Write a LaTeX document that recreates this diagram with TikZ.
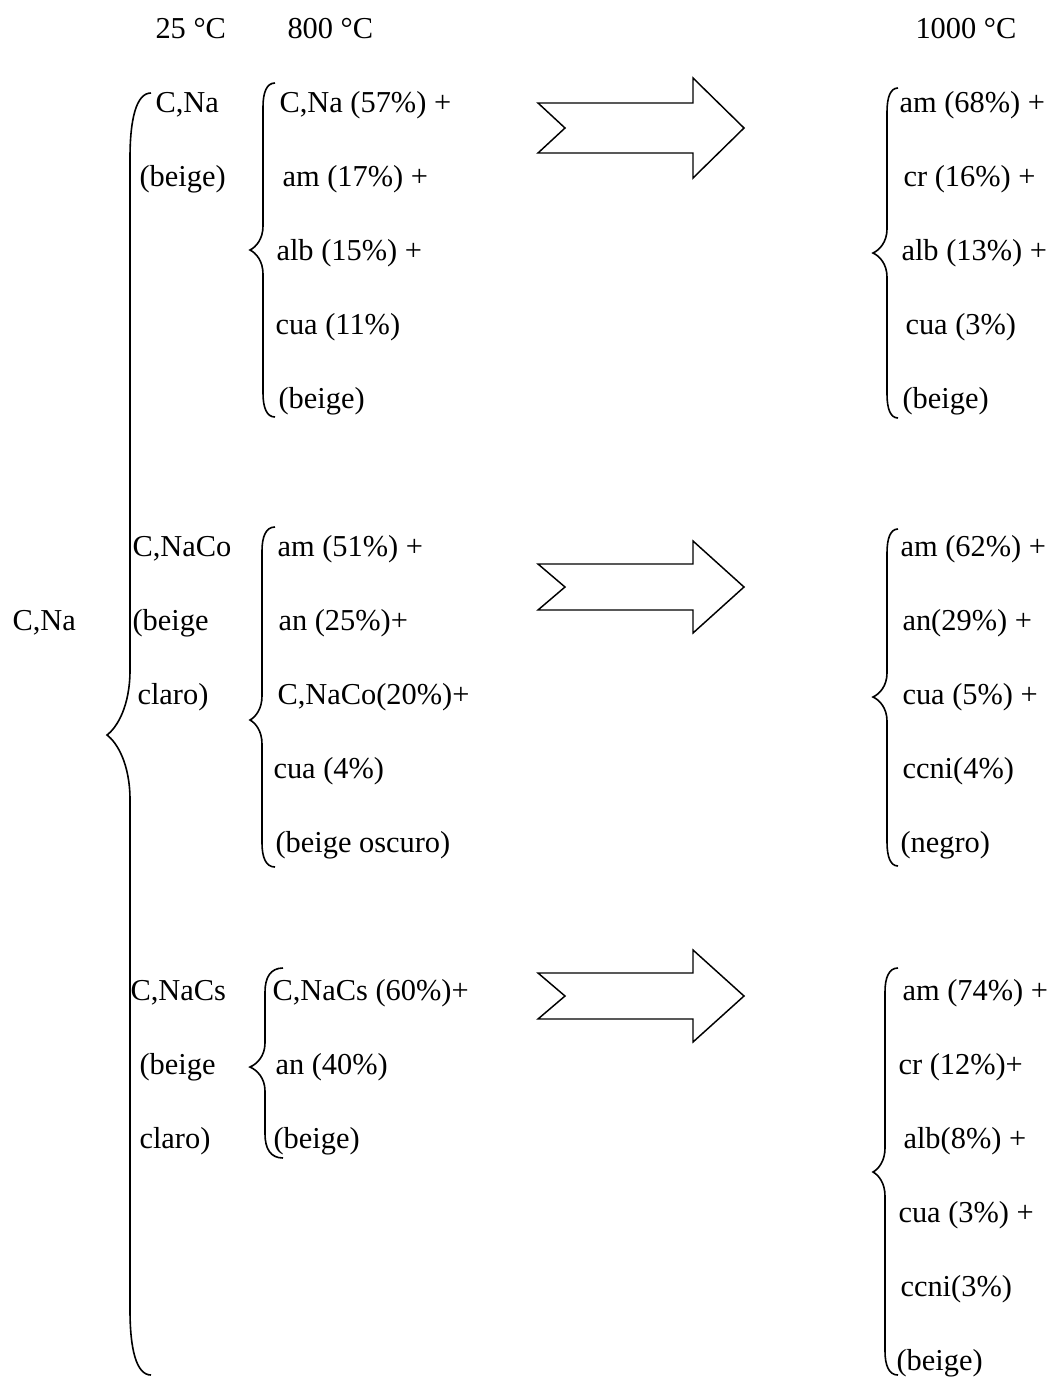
\documentclass[tikz,border=0pt]{standalone}
\usepackage{fontspec}
\setmainfont{Liberation Serif}
\usepackage{tikz}

% word-like curly brace: xv, xend, ytop, xtip, ytip, ybot, r
\newcommand{\wordbrace}[7]{%
  \draw[brace line] (#2,#3) .. controls ({#1+0.3*(#2-#1)},#3) and (#1,{#3+0.4*#7}) .. (#1,{#3+#7})
    -- (#1,{#5-#7}) .. controls (#1,{#5-0.45*#7}) and ({#4+0.45*(#1-#4)},{#5-0.12*#7}) .. (#4,#5)
    .. controls ({#4+0.45*(#1-#4)},{#5+0.12*#7}) and (#1,{#5+0.45*#7}) .. (#1,{#5+#7})
    -- (#1,{#6-#7}) .. controls (#1,{#6-0.4*#7}) and ({#1+0.3*(#2-#1)},#6) .. (#2,#6);}
% hollow arrow: centre y, half shaft, half head
\newcommand{\fatarrow}[3]{%
  \draw[arrow line] (538,{#1-#2}) -- (693,{#1-#2}) -- (693,{#1-#3}) -- (744,#1)
    -- (693,{#1+#3}) -- (693,{#1+#2}) -- (538,{#1+#2}) -- (565,#1) -- cycle;}

\begin{document}
\begin{tikzpicture}[x=0.375pt,y=-0.375pt,
  lbl/.style={anchor=base west,inner sep=0pt,font=\fontsize{11.4}{14}\selectfont},
  brace line/.style={line width=0.6pt},
  arrow line/.style={line width=0.55pt,line join=miter},
  ]
  \useasboundingbox (0,0) rectangle (1058,1378);

  % temperatures
  \node[lbl] (t25) at (155,38) {25 °C};
  \node[lbl] (t800) at (287,38) {800 °C};
  \node[lbl] (t1000) at (915,38) {1000 °C};

  \node[lbl] (root) at (12,630) {C,Na};
  \wordbrace{130}{151}{93}{107}{735}{1375}{65}

  % C,Na
  \node[lbl] (na) at (155,112) {C,Na};
  \node[lbl] (naCol) at (139,186) {(beige)};
  \wordbrace{263}{275}{83}{250}{250}{417}{24}
  \node[lbl] (na800a) at (279,112) {C,Na (57\%) +};
  \node[lbl] (na800b) at (282,186) {am (17\%) +};
  \node[lbl] (na800c) at (276,260) {alb (15\%) +};
  \node[lbl] (na800d) at (275,334) {cua (11\%)};
  \node[lbl] (na800e) at (278,408) {(beige)};
  \fatarrow{128}{25}{50}
  \wordbrace{887}{898}{88}{873}{253}{418}{24}
  \node[lbl] (na1000a) at (899,112) {am (68\%) +};
  \node[lbl] (na1000b) at (903,186) {cr (16\%) +};
  \node[lbl] (na1000c) at (901,260) {alb (13\%) +};
  \node[lbl] (na1000d) at (905,334) {cua (3\%)};
  \node[lbl] (na1000e) at (902,408) {(beige)};

  % C,NaCo
  \node[lbl] (co) at (132,556) {C,NaCo};
  \node[lbl] (coColA) at (132,630) {(beige};
  \node[lbl] (coColB) at (137,704) {claro)};
  \wordbrace{262}{275}{527}{250}{720}{867}{24}
  \node[lbl] (co800a) at (277,556) {am (51\%) +};
  \node[lbl] (co800b) at (278,630) {an (25\%)+};
  \node[lbl] (co800c) at (277,704) {C,NaCo(20\%)+};
  \node[lbl] (co800d) at (273,778) {cua (4\%)};
  \node[lbl] (co800e) at (275,852) {(beige oscuro)};
  \fatarrow{587}{23}{46}
  \wordbrace{887}{898}{529}{873}{697}{866}{24}
  \node[lbl] (co1000a) at (900,556) {am (62\%) +};
  \node[lbl] (co1000b) at (902,630) {an(29\%) +};
  \node[lbl] (co1000c) at (902,704) {cua (5\%) +};
  \node[lbl] (co1000d) at (902,778) {ccni(4\%)};
  \node[lbl] (co1000e) at (900,852) {(negro)};

  % C,NaCs
  \node[lbl] (cs) at (130,1000) {C,NaCs};
  \node[lbl] (csColA) at (139,1074) {(beige};
  \node[lbl] (csColB) at (139,1148) {claro)};
  \wordbrace{265}{283}{968}{250}{1067}{1158}{24}
  \node[lbl] (cs800a) at (272,1000) {C,NaCs (60\%)+};
  \node[lbl] (cs800b) at (275,1074) {an (40\%)};
  \node[lbl] (cs800c) at (273,1148) {(beige)};
  \fatarrow{996}{23}{46}
  \wordbrace{885}{898}{968}{873}{1172}{1375}{24}
  \node[lbl] (cs1000a) at (902,1000) {am (74\%) +};
  \node[lbl] (cs1000b) at (898,1074) {cr (12\%)+};
  \node[lbl] (cs1000c) at (903,1148) {alb(8\%) +};
  \node[lbl] (cs1000d) at (898,1222) {cua (3\%) +};
  \node[lbl] (cs1000e) at (900,1296) {ccni(3\%)};
  \node[lbl] (cs1000f) at (896,1370) {(beige)};
\end{tikzpicture}
\end{document}
